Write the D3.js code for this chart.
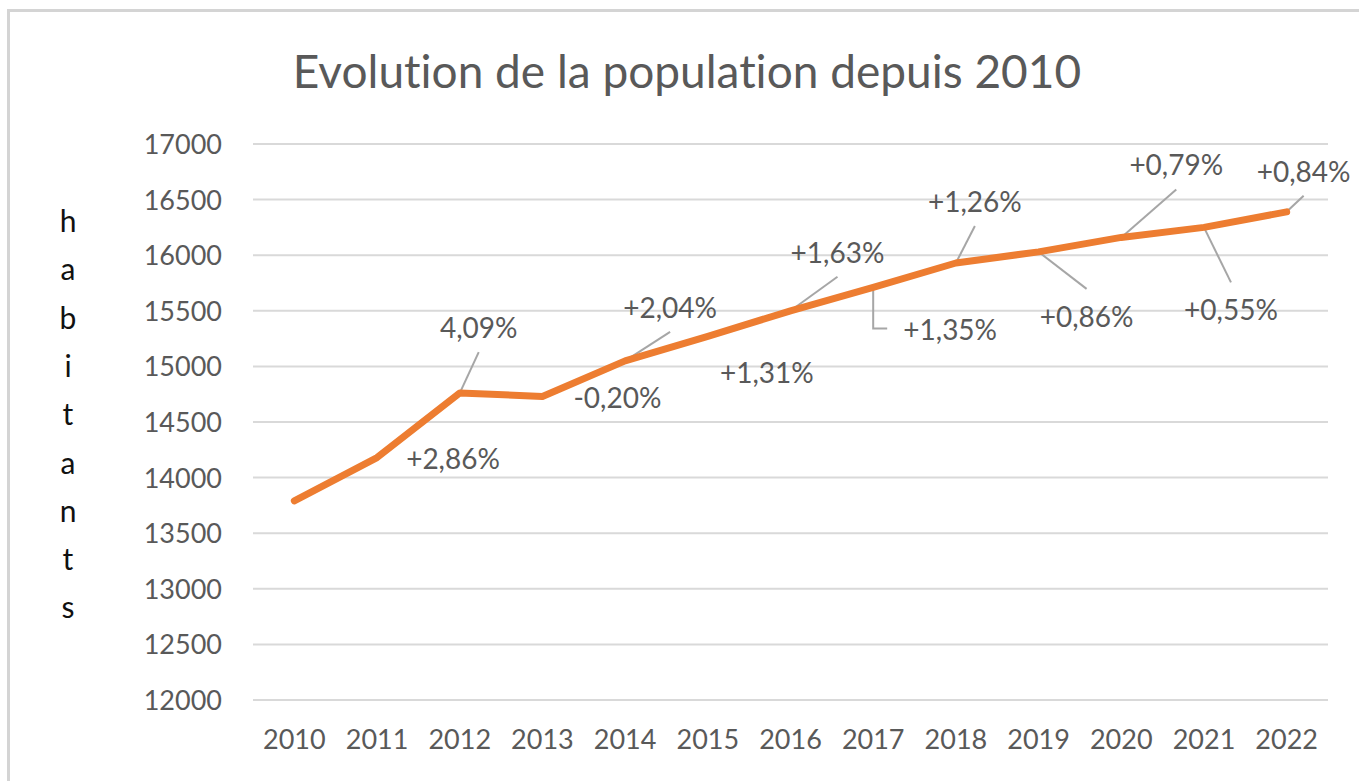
<!DOCTYPE html>
<html><head><meta charset="utf-8">
<script src="https://cdn.jsdelivr.net/npm/d3@7"></script>
<style>html,body{margin:0;padding:0;background:#fff;}svg{display:block;}text{font-variant-ligatures:none;font-feature-settings:"liga" 0;}</style>
</head><body>
<svg id="c" width="1359" height="781"></svg>
<script>
const years = ["2010","2011","2012","2013","2014","2015","2016","2017","2018","2019","2020","2021","2022"];
const population = [13790,14180,14760,14730,15050,15270,15500,15710,15930,16030,16160,16250,16390];
const yTicks = [12000,12500,13000,13500,14000,14500,15000,15500,16000,16500,17000];
const labelTexts = ["","+2,86%","4,09%","-0,20%","+2,04%","+1,31%","+1,63%","+1,35%","+1,26%","+0,86%","+0,79%","+0,55%","+0,84%"];
// label offsets (dx, dy) relative to point, and leader style
const labelOffsets = [null,[76,2],[19,-65],[75,2],[45,-53],[59,37],[47,-58],[77,43],[19,-61],[48,65],[55,-72],[27,83],[17,-40]];
const leaderKind = [null,"none","line","none","line","none","line","elbow","line","line","line","line","line"];

const svg = d3.select("#c");
const W = 1359, H = 781;
const font = "Lato, 'Open Sans', sans-serif";
svg.append("rect").attr("x",8.5).attr("y",10.5).attr("width",W+20).attr("height",H+20)
  .attr("fill","#fff").attr("stroke","#d4d4d4").attr("stroke-width",3);

const x = d3.scaleBand().domain(years).range([253,1328]);
const y = d3.scaleLinear().domain([12000,17000]).range([700,144]);

// grid
svg.append("g").selectAll("line").data(yTicks).join("line")
  .attr("x1",253).attr("x2",1328).attr("y1",d=>y(d)).attr("y2",d=>y(d))
  .attr("stroke","#d9d9d9").attr("stroke-width",2);

// y axis labels
const yAxis = d3.axisLeft(y).tickValues(yTicks).tickSize(0).tickPadding(0).tickFormat(d=>d);
const ga = svg.append("g").attr("transform","translate(222,0)").call(yAxis);
ga.select(".domain").remove();
ga.selectAll("text").attr("font-family",font).attr("font-size",27).attr("fill","#595959").attr("dy","0.35em");

// x axis labels
const xAxis = d3.axisBottom(x).tickSize(0).tickPadding(0);
const gx = svg.append("g").attr("transform","translate(0,730)").call(xAxis);
gx.select(".domain").remove();
gx.selectAll("text").attr("font-family",font).attr("font-size",27).attr("fill","#595959").attr("dy","0.71em");

// title
svg.append("text").attr("x",687).attr("y",88).attr("text-anchor","middle")
  .attr("font-family",font).attr("font-size",46).attr("fill","#595959")
  .text("Evolution de la population depuis 2010");

// y label stacked
const ylab = "habitants".split("");
svg.append("g").selectAll("text").data(ylab).join("text")
  .attr("x",68).attr("y",(d,i)=>232+i*48.3).attr("text-anchor","middle")
  .attr("font-family",font).attr("font-size",30).attr("fill","#111").text(d=>d);

const cx = d=>x(d)+x.bandwidth()/2;
const pts = years.map((yr,i)=>[cx(yr),y(population[i])]);

// leader lines
const lg = svg.append("g").attr("stroke","#a6a6a6").attr("stroke-width",2).attr("fill","none");
years.forEach((yr,i)=>{
  const k = leaderKind[i]; if(!k||k==="none") return;
  const [px,py]=pts[i]; const [dx,dy]=labelOffsets[i];
  const tx=px+dx, ty=py+dy;
  if(k==="line"){
    const ey = dy<0 ? ty+24 : ty-28;
    lg.append("line").attr("x1",px).attr("y1",py).attr("x2",tx).attr("y2",ey);
  } else if(k==="elbow"){
    lg.append("path").attr("d",`M${px},${py}V${py+41}H${px+14}`);
  }
});

// line
svg.append("path").datum(pts)
  .attr("d",d3.line())
  .attr("fill","none").attr("stroke","#ed7d31").attr("stroke-width",7)
  .attr("stroke-linejoin","round").attr("stroke-linecap","round");

// labels
svg.append("g").selectAll("text").data(years.map((yr,i)=>i).filter(i=>labelTexts[i]))
  .join("text")
  .attr("x",i=>pts[i][0]+labelOffsets[i][0]).attr("y",i=>pts[i][1]+labelOffsets[i][1])
  .attr("dy","0.35em").attr("text-anchor","middle")
  .attr("font-family",font).attr("font-size",28).attr("fill","#595959")
  .text(i=>labelTexts[i]);
</script>
</body></html>
